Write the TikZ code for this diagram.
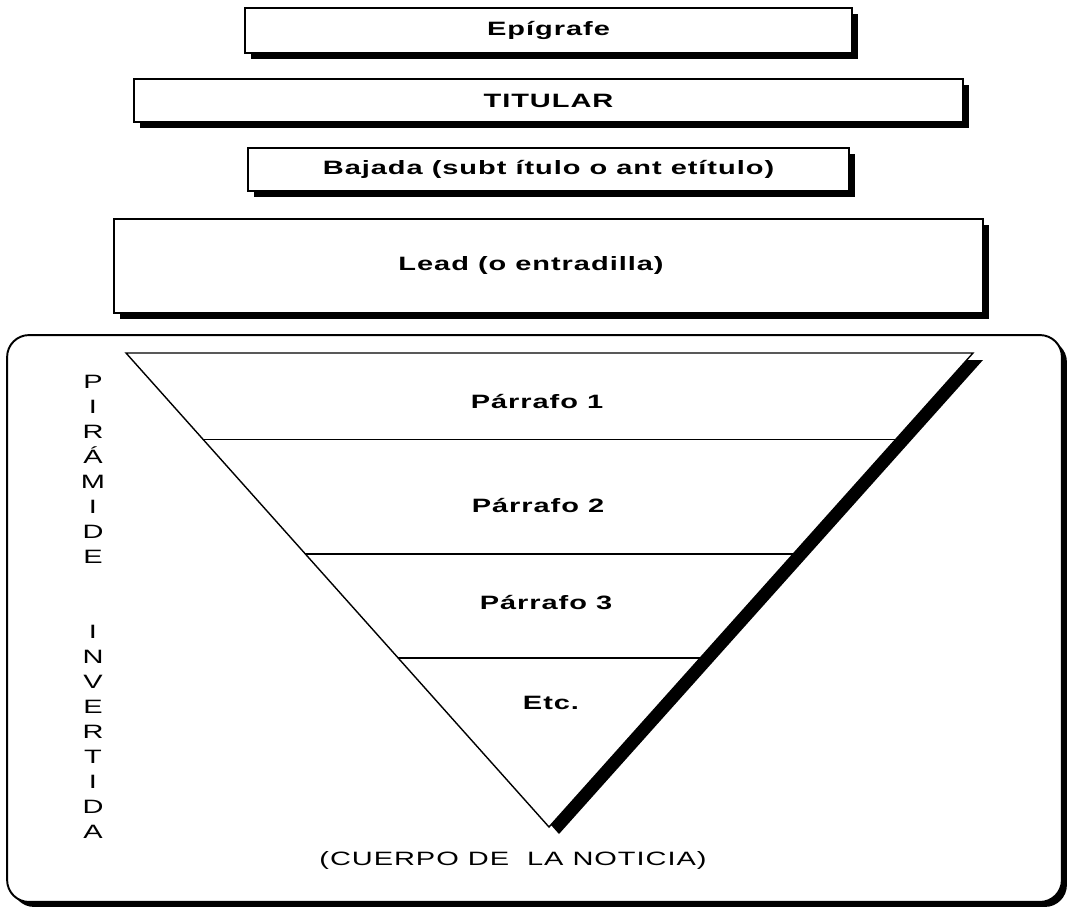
\documentclass[tikz,border=0pt]{standalone}
\usepackage{fontspec}
\setmainfont{Liberation Sans}[FakeStretch=1.5,LetterSpace=5]
\usetikzlibrary{calc,positioning,shadows}

\begin{document}
\begin{tikzpicture}[x=0.02cm,y=-0.02cm,
    box node/.style={rectangle,draw,fill=white,line width=.8pt,inner sep=0pt,outer sep=0pt,
        font=\fontsize{11}{13}\selectfont\bfseries,
        drop shadow={shadow xshift=.12cm,shadow yshift=-.12cm,fill=black,opacity=1}},
    label node/.style={inner sep=0pt,font=\fontsize{11}{13}\selectfont\bfseries},
    plain node/.style={inner sep=0pt,font=\fontsize{11}{14.23}\selectfont}]
    \useasboundingbox (0,0) rectangle (1067,909);

    \node[box node,minimum width=12.14cm,minimum height=.9cm] (epi) at (548.5,30.5) {Epígrafe};
    \node[box node,minimum width=16.58cm,minimum height=.86cm] (tit) [below = .52cm of epi] {TITULAR};
    \node[box node,minimum width=12.02cm,minimum height=.86cm] (baj) [below = .52cm of tit] {Bajada (subt ítulo o ant etítulo)};
    \node[box node,minimum width=17.38cm,minimum height=1.88cm] (lead) [below = .56cm of baj] {\hspace*{-.7cm}Lead (o entradilla)};

    % cuerpo de la noticia
    \node[draw,fill=white,line width=1.1pt,rounded corners=.44cm,minimum width=21.1cm,minimum height=11.34cm,
        drop shadow={shadow xshift=.1cm,shadow yshift=-.1cm,fill=black,opacity=1}] (marco) at (534.5,618.5) {};

    \coordinate (tl) at (126,353);
    \coordinate (tr) at (973,353);
    \coordinate (ap) at (549,827);
    \fill ([shift={(10,7)}]tl) -- ([shift={(10,7)}]tr) -- ([shift={(10,7)}]ap) -- cycle;
    \filldraw[fill=white,line width=.8pt] (tl) -- (tr) -- (ap) -- cycle;

    \path[draw,line width=.8pt]
    ($(tl)!.1825!(ap)$) -- ($(tr)!.1825!(ap)$)
    ($(tl)!.424!(ap)$) -- ($(tr)!.424!(ap)$)
    ($(tl)!.6435!(ap)$) -- ($(tr)!.6435!(ap)$)
    ;

    \node[label node] (p1) at (537,402) {Párrafo 1};
    \node[label node] (p2) at (538,505) {Párrafo 2};
    \node[label node] (p3) at (546,603) {Párrafo 3};
    \node[label node] (etc) at (551,703) {Etc.};

    \node[plain node,align=center,anchor=north] (pir) at (93,375)
        {P\\I\\R\\Á\\M\\I\\D\\E\\[1cm]I\\N\\V\\E\\R\\T\\I\\D\\A};
    \node[plain node] (cuerpo) at (513,860) {(CUERPO DE\ \ LA NOTICIA)};
\end{tikzpicture}
\end{document}
